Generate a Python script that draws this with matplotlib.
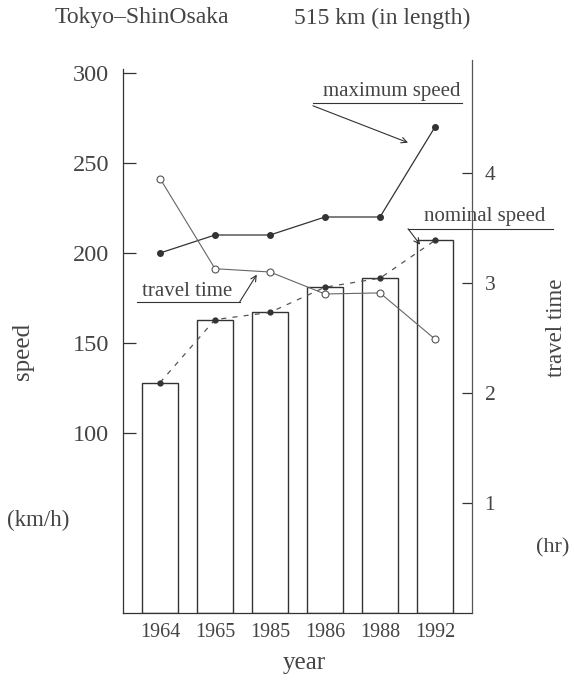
import numpy as np
import matplotlib.pyplot as plt

plt.rcParams['font.family'] = ['Liberation Serif', 'DejaVu Serif']

# 数据
years = ['1964', '1965', '1985', '1986', '1988', '1992']
nominal_speed = [128, 163, 167, 181, 186, 207]   # km/h (bars)
max_speed = [200, 210, 210, 220, 220, 270]        # km/h
travel_time = [3.95, 3.13, 3.10, 2.90, 2.91, 2.49]  # hr

ink = '#333333'
txt = '#444444'
x = np.arange(len(years))

fig = plt.figure(figsize=(5.74, 6.82), dpi=100)
ax = fig.add_axes([123/574, 1 - 613/682, (472-123)/574, (613-60)/682])
ax2 = ax.twinx()

# bars + nominal speed
ax.bar(x, nominal_speed, width=0.67, fill=False, edgecolor=ink, linewidth=1.0)
ax.plot(x, nominal_speed, ls=(0, (4, 5)), color='#555555', lw=0.9,
        marker='o', ms=3.5, mfc=ink, mec=ink)

# maximum speed
ax.plot(x, max_speed, color=ink, lw=0.9, marker='o', ms=4, mfc=ink, mec=ink)

# travel time (right axis)
ax2.plot(x, travel_time, color='#666666', lw=0.8, marker='o', ms=5,
         mfc='white', mec='#555555', mew=0.8)

ax.set_xlim(-0.673, 5.673)
ax.set_ylim(0, 300 * 553 / 540)
ax2.set_ylim(0, 553 / 110)

ax.set_xticks(x)
ax.set_xticklabels(years)
ax.set_yticks([100, 150, 200, 250, 300])
ax2.set_yticks([1, 2, 3, 4])

ax.tick_params(axis='x', length=0, pad=7, labelsize=14.5, labelcolor=txt)
ax.tick_params(axis='y', direction='in', length=9, width=0.9, color=ink,
               pad=10, labelsize=17.5, labelcolor=txt)
ax2.tick_params(axis='y', direction='in', length=7, width=0.9, color=ink,
                pad=9, labelsize=15.5, labelcolor=txt)

for s in ['top', 'right']:
    ax.spines[s].set_visible(False)
for s in ['top', 'left', 'bottom']:
    ax2.spines[s].set_visible(False)
ax.spines['left'].set_bounds(0, 302)
ax.spines['left'].set_color(ink)
ax.spines['bottom'].set_color(ink)
ax2.spines['right'].set_color('#555555')
for a in (ax, ax2):
    for s in a.spines.values():
        s.set_linewidth(0.9)

# annotations
arr = dict(arrowstyle='->', color=ink, lw=0.8, shrinkA=0, shrinkB=0)
ax.text(4.21, 289.5, 'maximum speed', ha='center', va='center', fontsize=15, color=txt)
ax.plot([2.78, 5.49], [283.5, 283.5], color=ink, lw=0.8, clip_on=False)
ax.annotate('', xy=(4.51, 261.3), xytext=(2.78, 281.8), arrowprops=arr)

ax.text(5.91, 220.5, 'nominal speed', ha='center', va='center', fontsize=15, color=txt)
ax.plot([4.51, 7.15], [213.5, 213.5], color=ink, lw=0.8, clip_on=False)
ax.annotate('', xy=(4.73, 204.6), xytext=(4.51, 213.5), arrowprops=arr,
            annotation_clip=False)

ax.text(0.5, 178.5, 'travel time', ha='center', va='center', fontsize=15, color=txt)
ax.plot([-0.42, 1.45], [172.9, 172.9], color=ink, lw=0.8)
ax.annotate('', xy=(1.76, 188), xytext=(1.45, 172.9), arrowprops=arr)

# labels around the plot
fig.text(142/574, 1 - 18/682, 'Tokyo–ShinOsaka', ha='center', va='center', fontsize=17, color=txt)
fig.text(382/574, 1 - 18/682, '515 km (in length)', ha='center', va='center', fontsize=17, color=txt)
fig.text(23/574, 1 - 351/682, 'speed', rotation=90, ha='center', va='center', fontsize=18, color=txt)
fig.text(38/574, 1 - 520/682, '(km/h)', ha='center', va='center', fontsize=16.5, color=txt)
fig.text(557/574, 1 - 328/682, 'travel time', rotation=90, ha='center', va='center', fontsize=16.5, color=txt)
fig.text(553/574, 1 - 548/682, '(hr)', ha='center', va='center', fontsize=16, color=txt)
fig.text(304/574, 1 - 663/682, 'year', ha='center', va='center', fontsize=18, color=txt)

fig.savefig('out.png', dpi=100)
